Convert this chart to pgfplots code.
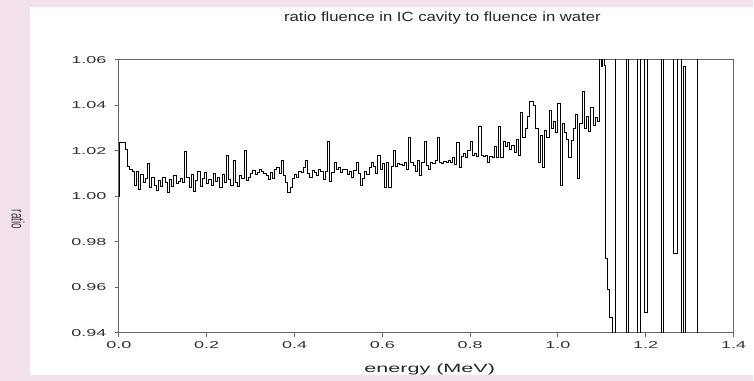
\documentclass[border=0pt]{standalone}
\usepackage{pgfplots}
\pgfplotsset{compat=1.18}
\usepackage{fontspec}
\setmainfont{Liberation Sans}
\definecolor{pinkbg}{RGB}{243,226,238}
\begin{document}
\begin{tikzpicture}
\fill[pinkbg] (0,0) rectangle (565.5pt,285.75pt);
\fill[white] (22.5pt,4.5pt) rectangle (565.5pt,280.5pt);
\begin{axis}[
  at={(89.25pt,36pt)}, anchor=south west,
  scale only axis, width=461.25pt, height=204.75pt,
  xmin=0, xmax=1.4, ymin=0.94, ymax=1.06,
  xtick={0,0.2,...,1.4}, ytick={0.94,0.96,...,1.06},
  xtick pos=left, ytick pos=left, tick align=outside,
  major tick length=3pt,
  axis line style={black!60, line width=0.75pt},
  every tick/.style={black!60, line width=0.75pt},
  /pgf/number format/assume math mode=true,
  xticklabel style={/pgf/number format/fixed,/pgf/number format/fixed zerofill,/pgf/number format/precision=1, font=\fontsize{7.5}{9}\selectfont, xscale=1.8, text=black!80},
  yticklabel style={/pgf/number format/fixed,/pgf/number format/fixed zerofill,/pgf/number format/precision=2, font=\fontsize{7.5}{9}\selectfont, xscale=1.8, text=black!80},
  scaled y ticks=false,
]
\addplot[const plot, black, line width=0.7pt] coordinates {
(0.000,1.0000) (0.002,1.0237) (0.005,1.0237) (0.010,1.0235) (0.015,1.0205) (0.020,1.0130) (0.025,1.0118) (0.030,1.0110) (0.035,1.0050) (0.040,1.0108) (0.045,1.0030)
(0.050,1.0095) (0.055,1.0062) (0.060,1.0080) (0.065,1.0143) (0.070,1.0040) (0.075,1.0085) (0.080,1.0050) (0.085,1.0028) (0.090,1.0070) (0.095,1.0045)
(0.100,1.0085) (0.105,1.0060) (0.110,1.0015) (0.115,1.0075) (0.120,1.0045) (0.125,1.0090) (0.130,1.0055) (0.135,1.0065) (0.140,1.0080) (0.145,1.0060)
(0.150,1.0197) (0.155,1.0085) (0.160,1.0040) (0.165,1.0095) (0.170,1.0020) (0.175,1.0070) (0.180,1.0110) (0.185,1.0045) (0.190,1.0080) (0.195,1.0105)
(0.200,1.0055) (0.205,1.0075) (0.210,1.0050) (0.215,1.0100) (0.220,1.0065) (0.225,1.0085) (0.230,1.0040) (0.235,1.0095) (0.240,1.0060) (0.245,1.0182)
(0.250,1.0075) (0.255,1.0050) (0.260,1.0156) (0.265,1.0060) (0.270,1.0045) (0.275,1.0090) (0.280,1.0080) (0.285,1.0204) (0.290,1.0070) (0.295,1.0085)
(0.300,1.0100) (0.305,1.0115) (0.310,1.0095) (0.315,1.0105) (0.320,1.0120) (0.325,1.0110) (0.330,1.0100) (0.335,1.0090) (0.340,1.0075) (0.345,1.0105)
(0.350,1.0080) (0.355,1.0118) (0.360,1.0125) (0.365,1.0100) (0.370,1.0160) (0.375,1.0090) (0.380,1.0060) (0.385,1.0015) (0.390,1.0040) (0.395,1.0080)
(0.400,1.0095) (0.405,1.0085) (0.410,1.0110) (0.415,1.0105) (0.420,1.0125) (0.425,1.0160) (0.430,1.0100) (0.435,1.0085) (0.440,1.0115) (0.445,1.0105)
(0.450,1.0090) (0.455,1.0120) (0.460,1.0110) (0.465,1.0075) (0.470,1.0110) (0.475,1.0240) (0.480,1.0065) (0.485,1.0105) (0.490,1.0150) (0.495,1.0120)
(0.500,1.0125) (0.505,1.0105) (0.510,1.0120) (0.515,1.0120) (0.520,1.0095) (0.525,1.0110) (0.530,1.0085) (0.535,1.0115) (0.540,1.0150) (0.545,1.0100)
(0.550,1.0050) (0.555,1.0080) (0.560,1.0110) (0.565,1.0095) (0.570,1.0125) (0.575,1.0150) (0.580,1.0130) (0.585,1.0100) (0.590,1.0180) (0.595,1.0120)
(0.600,1.0145) (0.605,1.0037) (0.610,1.0150) (0.615,1.0040) (0.620,1.0130) (0.625,1.0200) (0.630,1.0130) (0.635,1.0145) (0.640,1.0140) (0.645,1.0135)
(0.650,1.0150) (0.655,1.0120) (0.660,1.0257) (0.665,1.0150) (0.670,1.0135) (0.675,1.0110) (0.680,1.0160) (0.685,1.0094) (0.690,1.0150) (0.695,1.0242)
(0.700,1.0135) (0.705,1.0120) (0.710,1.0150) (0.715,1.0145) (0.720,1.0160) (0.725,1.0260) (0.730,1.0150) (0.735,1.0145) (0.740,1.0155) (0.745,1.0150)
(0.750,1.0160) (0.755,1.0150) (0.760,1.0170) (0.765,1.0140) (0.770,1.0235) (0.775,1.0125) (0.780,1.0175) (0.785,1.0190) (0.790,1.0170) (0.795,1.0200)
(0.800,1.0242) (0.805,1.0180) (0.810,1.0190) (0.815,1.0175) (0.820,1.0307) (0.825,1.0180) (0.830,1.0175) (0.835,1.0180) (0.840,1.0150) (0.845,1.0175)
(0.850,1.0170) (0.855,1.0220) (0.860,1.0170) (0.865,1.0307) (0.870,1.0170) (0.875,1.0240) (0.880,1.0220) (0.885,1.0235) (0.890,1.0205) (0.895,1.0225)
(0.900,1.0195) (0.905,1.0250) (0.910,1.0180) (0.915,1.0367) (0.920,1.0260) (0.925,1.0300) (0.930,1.0350) (0.935,1.0417) (0.940,1.0417) (0.945,1.0400)
(0.950,1.0300) (0.955,1.0147) (0.960,1.0270) (0.965,1.0125) (0.970,1.0290) (0.975,1.0260) (0.980,1.0380) (0.985,1.0300) (0.990,1.0330) (0.995,1.0280)
(1.000,1.0410) (1.005,1.0050) (1.010,1.0320) (1.015,1.0280) (1.020,1.0250) (1.025,1.0170) (1.030,1.0245) (1.035,1.0300) (1.040,1.0360) (1.045,1.0080)
(1.050,1.0320) (1.055,1.0460) (1.060,1.0300) (1.065,1.0350) (1.070,1.0285) (1.075,1.0390) (1.080,1.0310) (1.085,1.0345) (1.090,1.0330)
(1.095,1.0700) (1.099,1.0570) (1.102,1.0750) (1.105,1.0575) (1.108,0.9728) (1.113,0.9590) (1.118,0.9466) (1.124,0.9000)
(1.131,1.1000) (1.157,0.9000) (1.161,1.1000) (1.181,0.9000) (1.187,1.1000) (1.197,0.9490) (1.205,1.1000) (1.237,0.9000) (1.241,1.1000)
(1.264,0.9750) (1.273,1.1000) (1.282,0.9000) (1.287,1.0570) (1.291,0.9000) (1.318,1.1000) (1.323,1.1000)
};
\end{axis}
\node[xscale=1.25, font=\fontsize{10}{12}\selectfont, text=black!85] at (332pt,272pt) {ratio fluence in IC cavity to fluence in water};
\node[xscale=1.8, font=\fontsize{9}{11}\selectfont, text=black!85] at (322.5pt,8.5pt) {energy (MeV)};
\node[xscale=1.8, rotate=-90, font=\fontsize{7.5}{9}\selectfont, text=black!75] at (13.5pt,121pt) {ratio};
\end{tikzpicture}
\end{document}
